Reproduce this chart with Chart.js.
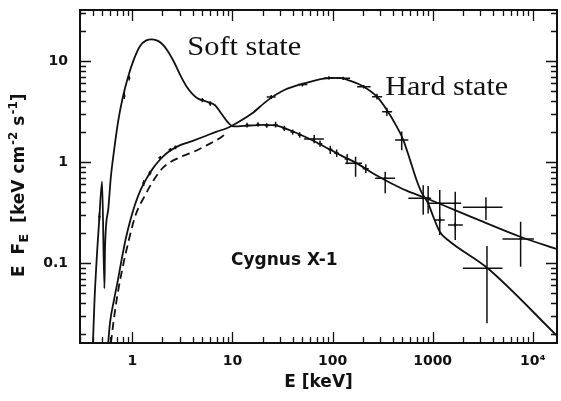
<!DOCTYPE html>
<html>
<head>
<meta charset="utf-8">
<title>Cygnus X-1 spectral states</title>
<script src="https://cdn.jsdelivr.net/npm/chart.js@4.4.0/dist/chart.umd.min.js"></script>
<style>
  html, body { margin: 0; padding: 0; background: #ffffff; }
  canvas { display: block; }
</style>
</head>
<body>
<canvas id="spectrum" width="561" height="401"></canvas>
<script>
// ---- axis ticks and ranges (keV, keV cm^-2 s^-1) ----
const energyTicks = [1, 10, 100, 1000, 10000];
const energyTickLabels = ['1', '10', '100', '1000', '10⁴'];
const fluxTicks = [0.1, 1, 10];
const fluxTickLabels = ['0.1', '1', '10'];
const energyRange = [0.309, 17480];
const fluxRange = [0.01614, 32];

// ---- soft state model curve ----
const softStateE = [0.40, 0.419, 0.469, 0.499, 0.526, 0.534, 0.576, 0.61, 0.66, 0.72, 0.80, 0.90,
  1.04, 1.2, 1.38, 1.55, 1.75, 1.95, 2.23, 2.6, 3.02, 3.52, 4.42, 5.55, 6.71, 7.52, 9.08, 10.2,
  15, 20, 27, 38, 55, 80, 120, 175, 260, 380, 550, 850, 2800, 7500, 18000];
const softStateF = [0.012, 0.043, 0.287, 0.64, 0.056, 0.145, 0.348, 0.71, 1.35, 2.5, 4.3, 6.8,
  10.5, 14.2, 16.0, 16.4, 16.0, 15.0, 12.8, 9.84, 7.2, 5.5, 4.3, 3.95, 3.65, 3.15, 2.45, 2.25,
  2.3, 2.33, 2.3, 2.05, 1.75, 1.45, 1.17, 0.97, 0.76, 0.62, 0.52, 0.44, 0.27, 0.182, 0.136];

// ---- hard state model curve ----
const hardStateE = [0.56, 0.598, 0.656, 0.718, 0.787, 0.863, 0.945, 1.06, 1.21, 1.42, 1.6, 1.8,
  2.2, 2.8, 3.8, 5.14, 6.98, 8.77, 10, 15.5, 22.6, 33, 52, 82, 115, 151, 205, 278, 349, 438,
  510, 594, 692, 775, 902, 1012, 1178, 1422, 3548, 17870];
const hardStateF = [0.012, 0.0255, 0.043, 0.068, 0.112, 0.177, 0.255, 0.375, 0.53, 0.715, 0.86, 1.0,
  1.22, 1.42, 1.59, 1.78, 2.0, 2.16, 2.3, 3.0, 4.1, 5.16, 6.0, 6.7, 6.8, 6.35, 5.57, 4.43, 3.27, 2.24,
  1.65, 1.05, 0.66, 0.5, 0.39, 0.29, 0.204, 0.169, 0.0887, 0.0186];

// ---- hard state component (dashed) ----
const componentE = [0.59, 0.656, 0.718, 0.805, 0.923, 1.08, 1.36, 1.63, 2.05, 3.02, 4.09, 5.58, 7.52, 9.0];
const componentF = [0.012, 0.0285, 0.0516, 0.093, 0.169, 0.30, 0.48, 0.66, 0.89, 1.12, 1.26, 1.47, 1.73, 1.98];

// ---- measured points with error bars: hard state ----
const hardObsE   = [1.3, 1.5, 1.9, 2.4, 2.7, 24.4, 50, 92, 128, 205, 278, 349, 491, 902, 1178, 1682, 3490];
const hardObsF   = [0.62, 0.78, 1.1, 1.32, 1.4, 4.4, 5.85, 6.8, 6.75, 5.57, 4.43, 3.15, 1.65, 0.437, 0.267, 0.238, 0.0887];
const hardObsElo = [1.26, 1.45, 1.82, 2.3, 2.6, 22, 45, 82, 110, 176, 248, 313, 422, 880, 1050, 1423, 2005];
const hardObsEhi = [1.34, 1.55, 1.98, 2.5, 2.8, 27, 56, 105, 150, 240, 313, 394, 572, 925, 1320, 2005, 4990];
const hardObsFlo = [0.58, 0.74, 1.05, 1.27, 1.34, 4.2, 5.6, 6.55, 6.5, 5.35, 4.15, 2.85, 1.31, 0.31, 0.25, 0.225, 0.0253];
const hardObsFhi = [0.66, 0.82, 1.15, 1.38, 1.46, 4.6, 6.1, 7.05, 7.0, 5.8, 4.75, 3.45, 2.0, 0.58, 0.285, 0.25, 0.147];

// ---- measured points with error bars: soft state ----
const softObsE   = [0.469, 0.83, 0.93, 5.0, 6.0, 14, 18, 22, 27, 33, 40, 47, 65.6, 75, 95, 110, 140, 170, 215, 336, 805, 1178, 1682, 3410, 7570];
const softObsF   = [0.287, 4.5, 6.8, 4.1, 3.8, 2.32, 2.35, 2.3, 2.32, 2.15, 1.98, 1.85, 1.69, 1.52, 1.33, 1.22, 1.07, 0.97, 0.86, 0.69, 0.437, 0.39, 0.39, 0.356, 0.173];
const softObsElo = [0.46, 0.81, 0.91, 4.8, 5.8, 13.5, 17.3, 21, 25.5, 31.5, 38, 45, 52, 71, 90, 104, 132, 134, 200, 267, 572, 902, 1270, 2005, 4990];
const softObsEhi = [0.478, 0.85, 0.95, 5.2, 6.2, 14.5, 18.7, 23, 28.5, 34.5, 42, 49, 82, 79, 100, 116, 148, 197, 230, 422, 966, 1320, 1928, 4990, 10280];
const softObsFlo = [0.26, 4.2, 6.4, 3.9, 3.6, 2.2, 2.23, 2.18, 2.2, 2.03, 1.86, 1.74, 1.53, 1.42, 1.2, 1.12, 0.95, 0.715, 0.78, 0.49, 0.30, 0.189, 0.169, 0.267, 0.0919];
const softObsFhi = [0.315, 4.9, 7.2, 4.3, 4.0, 2.45, 2.48, 2.42, 2.5, 2.28, 2.1, 1.97, 1.85, 1.63, 1.45, 1.33, 1.2, 1.13, 0.95, 0.80, 0.59, 0.528, 0.508, 0.447, 0.256];

const INK = '#111111';

function toPoints(xs, ys) {
  return xs.map((x, i) => ({ x: x, y: ys[i] }));
}

// Major (1 x 10^n) and minor (2..9 x 10^n) tick values inside [min, max]
function logTicks(min, max) {
  const out = [];
  for (let d = Math.floor(Math.log10(min)); d <= Math.ceil(Math.log10(max)); d++) {
    for (let m = 1; m <= 9; m++) {
      const v = Number((m * Math.pow(10, d)).toPrecision(12));
      if (v >= min && v <= max) out.push({ v: v, major: m === 1 });
    }
  }
  return out;
}

// Inward-pointing tick marks on all four sides plus the plot frame
const framePlugin = {
  id: 'frame',
  afterDatasetsDraw(chart) {
    const { ctx, chartArea: a } = chart;
    const x = chart.scales.x, y = chart.scales.y;
    ctx.save();
    ctx.strokeStyle = INK;
    ctx.lineWidth = 1.3;
    ctx.beginPath();
    for (const t of logTicks(x.min, x.max)) {
      const px = Math.round(x.getPixelForValue(t.v)) + 0.5;
      const len = t.major ? 11 : 6;
      ctx.moveTo(px, a.bottom); ctx.lineTo(px, a.bottom - len);
      ctx.moveTo(px, a.top); ctx.lineTo(px, a.top + len);
    }
    for (const t of logTicks(y.min, y.max)) {
      const py = Math.round(y.getPixelForValue(t.v)) + 0.5;
      const len = t.major ? 11 : 6;
      ctx.moveTo(a.left, py); ctx.lineTo(a.left + len, py);
      ctx.moveTo(a.right, py); ctx.lineTo(a.right - len, py);
    }
    ctx.stroke();
    ctx.lineWidth = 2;
    ctx.strokeRect(a.left, a.top, a.right - a.left, a.bottom - a.top);
    ctx.restore();
  }
};

function drawErrorBars(chart, E, F, Elo, Ehi, Flo, Fhi) {
  const { ctx, chartArea: a } = chart;
  const x = chart.scales.x, y = chart.scales.y;
  ctx.save();
  ctx.beginPath();
  ctx.rect(a.left, a.top, a.right - a.left, a.bottom - a.top);
  ctx.clip();
  ctx.strokeStyle = INK;
  ctx.lineWidth = 1.5;
  ctx.beginPath();
  for (let i = 0; i < E.length; i++) {
    const px = x.getPixelForValue(E[i]);
    const py = y.getPixelForValue(F[i]);
    ctx.moveTo(x.getPixelForValue(Elo[i]), py);
    ctx.lineTo(x.getPixelForValue(Ehi[i]), py);
    ctx.moveTo(px, y.getPixelForValue(Flo[i]));
    ctx.lineTo(px, y.getPixelForValue(Fhi[i]));
  }
  ctx.stroke();
  ctx.restore();
}

const errorBarPlugin = {
  id: 'errorBars',
  afterDatasetsDraw(chart) {
    drawErrorBars(chart, hardObsE, hardObsF, hardObsElo, hardObsEhi, hardObsFlo, hardObsFhi);
    drawErrorBars(chart, softObsE, softObsF, softObsElo, softObsEhi, softObsFlo, softObsFhi);
  }
};

// Text stretched horizontally to a given width
function drawFitted(ctx, text, px, py, font, width) {
  ctx.font = font;
  const s = width / ctx.measureText(text).width;
  ctx.save();
  ctx.translate(px, py);
  ctx.scale(s, 1);
  ctx.fillText(text, 0, 0);
  ctx.restore();
}

// Rotated y-axis title with sub- and superscripts, read bottom to top
function drawYTitle(ctx, baseX, startY) {
  const main = 'bold 17px "DejaVu Sans"';
  const sub = 'bold 13px "DejaVu Sans"';
  const sup = 'bold 12px "DejaVu Sans"';
  // [text, font, baseline shift, gap after]
  const parts = [
    ['E', main, 0, 11], ['F', main, 0, 0], ['E', sub, 4, 11], ['[keV cm', main, 0, 1],
    ['-2', sup, -7, 0], [' s', main, 0, 1], ['-1', sup, -7, 0], [']', main, 0, 0]
  ];
  ctx.save();
  ctx.translate(baseX, startY);
  ctx.rotate(-Math.PI / 2);
  ctx.textBaseline = 'alphabetic';
  ctx.textAlign = 'left';
  let pos = 0;
  for (const p of parts) {
    ctx.font = p[1];
    ctx.fillText(p[0], pos, p[2]);
    pos += ctx.measureText(p[0]).width + p[3];
  }
  ctx.restore();
}

const labelPlugin = {
  id: 'labels',
  afterDraw(chart) {
    const ctx = chart.ctx;
    const x = chart.scales.x, y = chart.scales.y;
    ctx.save();
    ctx.fillStyle = INK;
    ctx.textAlign = 'left';
    ctx.textBaseline = 'alphabetic';
    drawFitted(ctx, 'Soft state', x.getPixelForValue(3.54), y.getPixelForValue(11.5), '27px "Liberation Serif"', 114);
    drawFitted(ctx, 'Hard state', x.getPixelForValue(336), y.getPixelForValue(4.61), '27px "Liberation Serif"', 123);
    ctx.font = 'bold 17px "DejaVu Sans"';
    ctx.fillText('Cygnus X-1', x.getPixelForValue(9.67), y.getPixelForValue(0.0955));
    drawYTitle(ctx, 23.5, 277);
    ctx.restore();
  }
};

const curveStyle = {
  borderColor: INK,
  borderWidth: 1.8,
  pointRadius: 0,
  fill: false,
  cubicInterpolationMode: 'monotone'
};

new Chart(document.getElementById('spectrum'), {
  type: 'line',
  data: {
    datasets: [
      Object.assign({ label: 'Soft state', data: toPoints(softStateE, softStateF) }, curveStyle),
      Object.assign({ label: 'Hard state', data: toPoints(hardStateE, hardStateF) }, curveStyle),
      Object.assign({ label: 'Hard state component', data: toPoints(componentE, componentF), borderDash: [8, 5] }, curveStyle),
      {
        type: 'scatter', label: 'Hard state data', data: toPoints(hardObsE, hardObsF),
        pointRadius: 1.2, backgroundColor: INK, borderColor: INK, borderWidth: 0
      },
      {
        type: 'scatter', label: 'Soft state data', data: toPoints(softObsE, softObsF),
        pointRadius: 1.2, backgroundColor: INK, borderColor: INK, borderWidth: 0
      }
    ]
  },
  options: {
    responsive: false,
    animation: false,
    devicePixelRatio: 1,
    layout: { padding: { top: 10, right: 1, bottom: 0, left: 0 } },
    plugins: { legend: { display: false }, tooltip: { enabled: false } },
    scales: {
      x: {
        type: 'logarithmic',
        min: energyRange[0],
        max: energyRange[1],
        grid: { display: false, drawTicks: false, tickLength: 0 },
        border: { display: false },
        afterBuildTicks: (s) => { s.ticks = energyTicks.map(v => ({ value: v })); },
        afterFit: (s) => { s.height = 58; s.paddingLeft = 0; s.paddingRight = 0; },
        ticks: {
          autoSkip: false, maxRotation: 0, minRotation: 0, padding: 10, color: INK,
          font: { family: 'DejaVu Sans', weight: 'bold', size: 14 },
          callback: (v) => energyTickLabels[energyTicks.indexOf(v)]
        },
        title: {
          display: true, text: 'E [keV]', color: INK,
          font: { family: 'DejaVu Sans', weight: 'bold', size: 17 },
          padding: { top: 0, bottom: 8 }
        }
      },
      y: {
        type: 'logarithmic',
        min: fluxRange[0],
        max: fluxRange[1],
        grid: { display: false, drawTicks: false, tickLength: 0 },
        border: { display: false },
        afterBuildTicks: (s) => { s.ticks = fluxTicks.map(v => ({ value: v })); },
        afterFit: (s) => { s.width = 80; s.paddingTop = 0; s.paddingBottom = 0; },
        ticks: {
          autoSkip: false, padding: 12, color: INK,
          font: { family: 'DejaVu Sans', weight: 'bold', size: 14 },
          callback: (v) => fluxTickLabels[fluxTicks.indexOf(v)]
        }
      }
    }
  },
  plugins: [framePlugin, errorBarPlugin, labelPlugin]
});
</script>
</body>
</html>
